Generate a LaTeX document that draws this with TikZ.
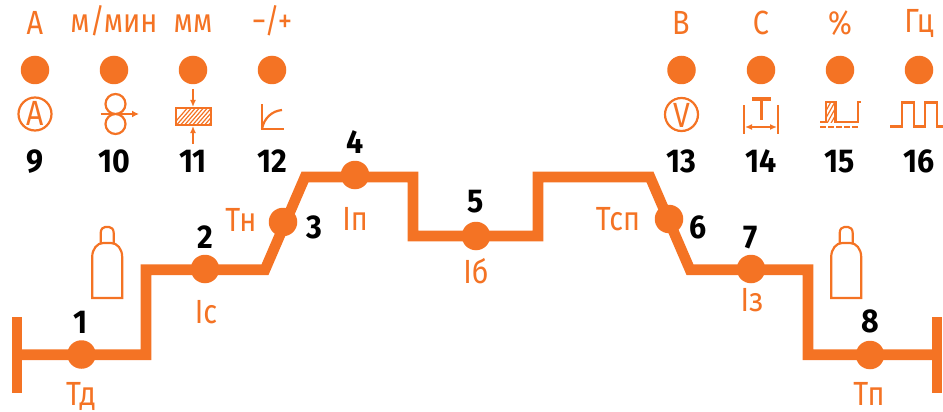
\documentclass[tikz,border=0pt]{standalone}
\usepackage{fontspec}
\usetikzlibrary{arrows.meta}
\setmainfont{Fira Sans}
\newfontfamily\labf[FakeStretch=0.86]{Fira Sans}
\newfontfamily\numf[FakeStretch=0.92,UprightFeatures={FakeBold=0}]{Fira Sans}
\definecolor{org}{HTML}{F47324}
\tikzset{
  x=1pt,y=-1pt,
  dotnode/.style={circle,fill=org,inner sep=0pt,minimum size=28.5pt},
  numlab/.style={anchor=base,inner sep=0pt,text=black,font=\fontsize{33}{33}\numf\bfseries},
  unitlab/.style={anchor=base,inner sep=0pt,text=org,font=\fontsize{33.5}{34}\labf},
  proflab/.style={anchor=base,inner sep=0pt,text=org,font=\fontsize{33.5}{34}\labf},
  iconlab/.style={anchor=base,inner sep=0pt,text=org,font=\fontsize{35}{35}\labf},
  profile/.style={draw=org,line width=10.6pt,miter limit=10},
  icon/.style={draw=org,line width=2.2pt},
  thin icon/.style={draw=org,line width=1.5pt},
  gas/.pic={\draw[icon] (-15,35)--(15,35)--(15,-6) .. controls (15,-14) and (10,-20) .. (4,-20) -- (-4,-20) .. controls (-10,-20) and (-15,-14) .. (-15,-6)--cycle;
    \draw[icon] (-6.5,-20)--(-6.5,-30) .. controls (-6.5,-34) and (-4,-36) .. (-2,-36) -- (2,-36) .. controls (4,-36) and (6.5,-34) .. (6.5,-30) --(6.5,-20);}
}
\begin{document}
\begin{tikzpicture}
\useasboundingbox (0,0) rectangle (943,412);
% profile corners
\coordinate (s) at (17,354.7);
\coordinate (a1) at (146,354.7);
\coordinate (a2) at (146,269.7);
\coordinate (a3) at (265,269.7);
\coordinate (a4) at (305,177);
\coordinate (a5) at (413,177);
\coordinate (a6) at (413,236);
\coordinate (a7) at (538,236);
\coordinate (a8) at (538,177);
\coordinate (a9) at (650,177);
\coordinate (a10) at (690,269.7);
\coordinate (a11) at (808,269.7);
\coordinate (a12) at (808,354.7);
\coordinate (e) at (937,354.7);
\coordinate (sT) at (17,317);
\coordinate (sB) at (17,393);
\coordinate (eT) at (937,317);
\coordinate (eB) at (937,393);
\draw[profile] (s)--(a1)--(a2)--(a3)--(a4)--(a5)--(a6)--(a7)--(a8)--(a9)--(a10)--(a11)--(a12)--(e);
\draw[profile] (sT)--(sB);
\draw[profile] (eT)--(eB);
% profile dots
\node[dotnode] (d1) at (81.5,354.5) {};
\node[dotnode] (d2) at (205,269) {};
\node[dotnode] (d3) at (283,222) {};
\node[dotnode] (d4) at (355,175) {};
\node[dotnode] (d5) at (476,236) {};
\node[dotnode] (d6) at (669,219) {};
\node[dotnode] (d7) at (751,269) {};
\node[dotnode] (d8) at (870,355) {};
% top dots
\foreach \n/\x in {t9/35,t10/114,t11/193,t12/272,t13/681.5,t14/761,t15/840,t16/919}
  \node[dotnode] (\n) at (\x,70) {};
% units
\node[unitlab] (u9) at (35,35) {А};
\node[unitlab] (u10) at (114,33) {м/мин};
\node[unitlab] (u11) at (193,33) {мм};
\node[unitlab] (u12) at (272,33) {−/+};
\node[unitlab] (u13) at (681,35) {В};
\node[unitlab] (u14) at (761,35) {С};
\node[unitlab] (u15) at (840,35) {\%};
\node[unitlab] (u16) at (919,33) {Гц};
% numbers
\foreach \n/\x/\y/\t in {n1/81/333/1,n2/205/248/2,n3/314/238/3,n4/355/153/4,n5/476/212/5,n6/698/238/6,n7/751/248/7,n8/870/332/8,n9/35/172/9,n10/114/172/10,n11/193/172/11,n12/272/172/12,n13/681/172/13,n14/761/172/14,n15/840/172/15,n16/919/172/16}
  \node[numlab] (\n) at (\x,\y) {\t};
% profile labels
\node[proflab] (l1) at (81,405) {Тд};
\node[proflab] (l2) at (206,323) {Іс};
\node[proflab] (l3) at (241,231) {Тн};
\node[proflab] (l4) at (355,230) {Іп};
\node[proflab] (l5) at (476,283) {Іб};
\node[proflab] (l6) at (618,230) {Тсп};
\node[proflab] (l7) at (752,311) {Із};
\node[proflab] (l8) at (869,405) {Тп};
% gas cylinders
\pic at (107.2,263) {gas};
\pic at (846.2,263) {gas};
% icon 9 and 13
\draw[icon] (35,114) circle (16.5);
\node[iconlab] (i9) at (35,125.5) {А};
\draw[icon] (681.5,114.5) circle (16.5);
\node[iconlab] (i13) at (681.5,127) {V};
% icon 10
\draw[icon] (115.5,104) circle (10) (115.5,124) circle (10);
\draw[icon,-{Latex[length=7pt,width=7pt]}] (100.5,114)--(139,114);
% icon 11
\begin{scope}
\clip (176,108) rectangle (211,125);
\foreach \k in {0,4,...,60} \draw[org,line width=1.2pt] (170+\k,128)--(190+\k,105);
\end{scope}
\draw[icon] (176,108) rectangle (211,125);
\draw[thin icon,-{Latex[length=7pt,width=6pt]}] (193,89)--(193,107);
\draw[thin icon,-{Latex[length=7pt,width=6pt]}] (193,144)--(193,126);
% icon 12
\draw[icon] (262,104)--(262,129)--(284,129);
\draw[icon] (262,129) .. controls (264,118) and (272,111) .. (282,110);
% icon 14
\draw[thin icon] (744,105)--(744,134) (778,105)--(778,134);
\draw[thin icon,{Latex[length=7pt,width=6pt]}-{Latex[length=7pt,width=6pt]}] (745,127)--(777,127);
\draw[draw=org,line width=3.4pt] (752,99)--(771,99) (761.5,99)--(761.5,120);
% icon 15
\begin{scope}
\clip (826,102) rectangle (835,122);
\foreach \k in {0,4,...,32} \draw[org,line width=1.2pt] (818+\k,125)--(832+\k,100);
\end{scope}
\draw[icon] (820,122)--(826,122)--(826,102)--(835.5,102)--(835.5,122)--(858,122)--(858,102)--(861,102);
\draw[icon,dash pattern=on 5.5pt off 2.5pt] (820,127)--(858,127);
% icon 16
\draw[draw=org,line width=2.6pt] (890,126.7)--(902,126.7)--(902,102.5)--(914,102.5)--(914,126.7)--(925,126.7)--(925,102.5)--(937,102.5)--(937,126.7)--(943,126.7);
\end{tikzpicture}
\end{document}
